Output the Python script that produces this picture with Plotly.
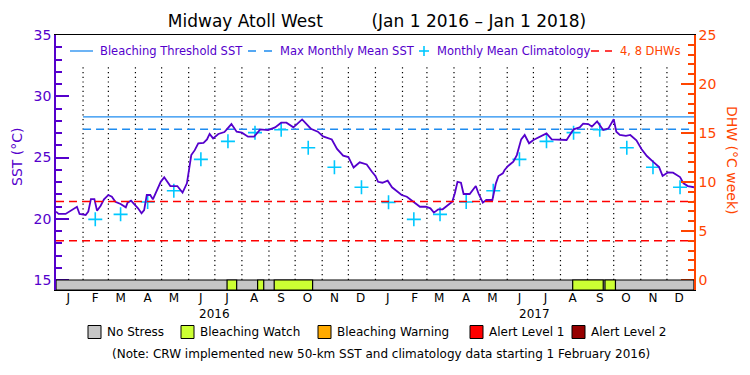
import plotly.graph_objects as go
import pandas as pd

# ---------------- data ----------------
sst_dates = [
    "2016-01-01", "2016-01-04", "2016-01-12", "2016-01-18", "2016-01-23", "2016-01-25",
    "2016-01-28", "2016-02-04", "2016-02-07", "2016-02-10", "2016-02-14", "2016-02-17",
    "2016-02-21", "2016-02-25", "2016-03-01", "2016-03-05", "2016-03-09", "2016-03-15",
    "2016-03-21", "2016-03-23", "2016-03-27", "2016-03-31", "2016-04-04", "2016-04-08",
    "2016-04-11", "2016-04-14", "2016-04-18", "2016-04-21", "2016-04-26", "2016-04-30",
    "2016-05-04", "2016-05-08", "2016-05-11", "2016-05-19", "2016-05-25", "2016-05-30",
    "2016-06-01", "2016-06-04", "2016-06-08", "2016-06-12", "2016-06-18", "2016-06-22",
    "2016-06-25", "2016-06-29", "2016-07-05", "2016-07-12", "2016-07-20", "2016-07-26",
    "2016-08-01", "2016-08-08", "2016-08-15", "2016-08-22", "2016-08-31", "2016-09-08",
    "2016-09-15", "2016-09-21", "2016-09-29", "2016-10-09", "2016-10-19", "2016-10-27",
    "2016-11-02", "2016-11-12", "2016-11-18", "2016-11-25", "2016-12-01", "2016-12-07",
    "2016-12-14", "2016-12-22", "2016-12-28", "2017-01-01", "2017-01-04", "2017-01-09",
    "2017-01-15", "2017-01-20", "2017-01-25", "2017-01-31", "2017-02-06", "2017-02-12",
    "2017-02-17", "2017-02-21", "2017-02-28", "2017-03-05", "2017-03-09", "2017-03-14",
    "2017-03-19", "2017-03-24", "2017-03-30", "2017-04-02", "2017-04-05", "2017-04-09",
    "2017-04-12", "2017-04-19", "2017-04-26", "2017-04-29", "2017-05-04", "2017-05-08",
    "2017-05-15", "2017-05-19", "2017-05-22", "2017-05-27", "2017-05-29", "2017-06-02",
    "2017-06-08", "2017-06-12", "2017-06-17", "2017-06-21", "2017-06-26", "2017-07-01",
    "2017-07-08", "2017-07-16", "2017-07-22", "2017-07-31", "2017-08-08", "2017-08-16",
    "2017-08-23", "2017-08-27", "2017-09-02", "2017-09-06", "2017-09-12", "2017-09-19",
    "2017-09-25", "2017-10-01", "2017-10-04", "2017-10-08", "2017-10-15", "2017-10-20",
    "2017-10-27", "2017-11-02", "2017-11-08", "2017-11-15", "2017-11-22", "2017-11-26",
    "2017-12-02", "2017-12-08", "2017-12-16", "2017-12-20", "2017-12-25", "2018-01-01",
]
sst_values = [
    20.58, 20.39, 20.39, 20.66, 20.93, 20.98,
    20.39, 20.31, 20.58, 21.61, 21.61, 20.66,
    21.04, 21.58, 21.94, 21.80, 21.39, 21.20,
    20.93, 21.31, 21.47, 21.20, 20.85, 20.44,
    20.71, 21.94, 21.94, 21.58, 22.35, 23.02,
    23.38, 23.02, 22.67, 22.67, 22.13, 22.89,
    23.98, 25.20, 25.60, 26.16, 26.20, 26.48,
    26.92, 26.56, 26.92, 27.08, 27.73, 27.11,
    27.03, 26.70, 26.70, 27.30, 27.24, 27.46,
    27.84, 27.84, 27.46, 28.11, 27.35, 27.11,
    26.72, 26.47, 25.70, 25.15, 25.03, 24.18,
    24.61, 24.43, 23.84, 23.50, 23.02, 22.94,
    23.11, 22.57, 22.29, 21.94, 21.80, 21.47,
    21.26, 20.98, 20.98, 20.85, 20.50, 20.77,
    20.77, 21.07, 21.39, 22.08, 23.02, 22.94,
    22.02, 22.02, 22.67, 22.08, 21.31, 21.53,
    21.53, 22.89, 23.49, 23.71, 23.98, 24.31,
    24.66, 25.20, 26.48, 26.84, 26.16, 26.43,
    26.70, 26.97, 26.48, 26.43, 26.43, 27.30,
    27.46, 27.76, 27.73, 27.52, 27.95, 27.24,
    27.38, 28.12, 27.10, 26.84, 26.76, 26.84,
    26.40, 25.67, 25.12, 24.66, 24.22, 23.50,
    23.78, 23.76, 23.40, 22.89, 22.67, 22.57,
]

clim_dates = [
    "2016-02-15", "2016-03-15", "2016-04-15", "2016-05-15", "2016-06-15", "2016-07-16",
    "2016-08-16", "2016-09-15", "2016-10-16", "2016-11-15", "2016-12-16", "2017-01-16",
    "2017-02-14", "2017-03-16", "2017-04-15", "2017-05-16", "2017-06-15", "2017-07-16",
    "2017-08-16", "2017-09-15", "2017-10-16", "2017-11-15", "2017-12-16",
]
clim_values = [
    19.95, 20.36, 21.37, 22.29, 24.85, 26.32,
    27.03, 27.27, 25.80, 24.20, 22.57, 21.34,
    19.95, 20.36, 21.37, 22.29, 24.85, 26.32,
    27.03, 27.27, 25.80, 24.20, 22.57,
]

threshold_sst = 28.31
mmm_sst = 27.31
new_data_start = "2016-02-01"
dhw_levels = [4, 8]

watch_starts = ["2016-07-15", "2016-08-19", "2016-09-07", "2017-08-15", "2017-09-21"]
watch_ends = ["2016-07-26", "2016-08-26", "2016-10-21", "2017-09-19", "2017-10-03"]

month_letters = ["J", "F", "M", "A", "M", "J", "J", "A", "S", "O", "N", "D"]
year_labels = ["2016", "2017"]
year_centers = ["2016-07-01", "2017-07-02"]

stress_names = ["No Stress", "Bleaching Watch", "Bleaching Warning", "Alert Level 1", "Alert Level 2"]
stress_colors = ["#c6c6c6", "#ccff33", "#ffaa00", "#ff0000", "#960000"]

# ---------------- style ----------------
PURPLE = "#5500cc"
ORANGE = "#ff4500"
BLUE = "#1e8cf0"
CYAN = "#00c8ff"
FONT = "DejaVu Sans"
START, END = "2016-01-01", "2018-01-01"
YMIN, YMAX = 14.1837, 35
Y2MIN, Y2MAX = -1.0204, 25

L, R, T, B = 56, 694, 35, 290


def px(xp):
    return (xp - L) / (R - L)


def py(yp):
    return (B - yp) / (B - T)


fig = go.Figure()

# thresholds
fig.add_trace(go.Scatter(x=[new_data_start, END], y=[threshold_sst] * 2, mode="lines",
                         line=dict(color=BLUE, width=1.3), yaxis="y", showlegend=False,
                         name="Bleaching Threshold SST"))
fig.add_trace(go.Scatter(x=[new_data_start, END], y=[mmm_sst] * 2, mode="lines",
                         line=dict(color=BLUE, width=1.5, dash="8px,5px"), yaxis="y",
                         showlegend=False, name="Max Monthly Mean SST"))
for lv in dhw_levels:
    fig.add_trace(go.Scatter(x=[START, END], y=[lv, lv], mode="lines",
                             line=dict(color="#ff0000", width=1.5, dash="8px,5px"),
                             yaxis="y2", showlegend=False, name=f"{lv} DHW"))

# climatology
fig.add_trace(go.Scatter(x=clim_dates, y=clim_values, mode="markers",
                         marker=dict(symbol="cross-thin", size=10,
                                     line=dict(color=CYAN, width=1.6)),
                         yaxis="y", showlegend=False, name="Monthly Mean Climatology"))
# SST
fig.add_trace(go.Scatter(x=sst_dates, y=sst_values, mode="lines",
                         line=dict(color=PURPLE, width=1.8), yaxis="y",
                         showlegend=False, name="SST"))

shapes = []
# dotted month boundaries
for d in pd.date_range("2016-02-01", "2017-12-01", freq="MS"):
    shapes.append(dict(type="line", xref="x", yref="y", x0=d, x1=d, y0=15, y1=32.55,
                       line=dict(color="black", width=1.2, dash="1.2px,3.5px"), layer="below"))
# stress band
shapes.append(dict(type="rect", xref="x", yref="y", x0=START, x1=END, y0=YMIN, y1=15,
                   fillcolor=stress_colors[0], line=dict(color="black", width=1.2)))
for s, e in zip(watch_starts, watch_ends):
    shapes.append(dict(type="rect", xref="x", yref="y", x0=s, x1=e, y0=YMIN, y1=15,
                       fillcolor=stress_colors[1], line=dict(color="black", width=1.2)))

annotations = []
# top legend
ly = 51
shapes.append(dict(type="line", xref="paper", yref="paper", x0=px(70), x1=px(93),
                   y0=py(ly), y1=py(ly), line=dict(color=BLUE, width=1.3)))
shapes.append(dict(type="line", xref="paper", yref="paper", x0=px(248), x1=px(272),
                   y0=py(ly), y1=py(ly), line=dict(color=BLUE, width=1.5, dash="8px,8px")))
shapes.append(dict(type="line", xref="paper", yref="paper", x0=px(419), x1=px(429),
                   y0=py(ly), y1=py(ly), line=dict(color=CYAN, width=1.6)))
shapes.append(dict(type="line", xref="paper", yref="paper", x0=px(424), x1=px(424),
                   y0=py(ly - 5), y1=py(ly + 5), line=dict(color=CYAN, width=1.6)))
shapes.append(dict(type="line", xref="paper", yref="paper", x0=px(591), x1=px(612),
                   y0=py(ly), y1=py(ly), line=dict(color="#ff0000", width=1.5, dash="8px,6px")))
for txt, xx, col in [("Bleaching Threshold SST", 98, PURPLE),
                     ("Max Monthly Mean SST", 278, PURPLE),
                     ("Monthly Mean Climatology", 435, PURPLE),
                     ("4, 8 DHWs", 618, ORANGE)]:
    annotations.append(dict(text=txt, x=px(xx), y=py(ly), xref="paper", yref="paper",
                            xanchor="left", yanchor="middle", showarrow=False,
                            font=dict(family=FONT, size=11.5, color=col)))

# bottom stress legend
box_x = [88, 181, 318, 470, 572]
by = 332
for name, col, bx in zip(stress_names, stress_colors, box_x):
    shapes.append(dict(type="rect", xref="paper", yref="paper", x0=px(bx), x1=px(bx + 13),
                       y0=py(by + 6.5), y1=py(by - 6.5), fillcolor=col,
                       line=dict(color="black", width=1)))
    annotations.append(dict(text=name, x=px(bx + 17), y=py(by), xref="paper", yref="paper",
                            xanchor="left", yanchor="middle", showarrow=False,
                            font=dict(family=FONT, size=12, color="black")))
annotations.append(dict(text="(Note: CRW implemented new 50-km SST and climatology data starting 1 February 2016)",
                        x=px(380.5), y=py(354), xref="paper", yref="paper", xanchor="center",
                        yanchor="middle", showarrow=False,
                        font=dict(family=FONT, size=12, color="black")))
# year labels
for lab, c in zip(year_labels, year_centers):
    annotations.append(dict(text=lab, x=c, y=py(314), xref="x", yref="paper",
                            xanchor="center", yanchor="middle", showarrow=False,
                            font=dict(family=FONT, size=12, color="black")))
# axis titles
annotations.append(dict(text="SST (°C)", x=px(17), y=py(157), xref="paper", yref="paper",
                        textangle=-90, showarrow=False, xanchor="center", yanchor="middle",
                        font=dict(family=FONT, size=14, color=PURPLE)))
annotations.append(dict(text="DHW (°C week)", x=px(732), y=py(160), xref="paper", yref="paper",
                        textangle=90, showarrow=False, xanchor="center", yanchor="middle",
                        font=dict(family=FONT, size=14, color=ORANGE)))

month_ticks = pd.date_range("2016-01-01", "2017-12-01", freq="MS") + pd.Timedelta(days=14)
month_text = month_letters * 2

NB = "\u00a0"
fig.update_layout(
    width=750, height=375,
    margin=dict(l=L, r=750 - R, t=T, b=375 - B, pad=0, autoexpand=False),
    paper_bgcolor="white", plot_bgcolor="white",
    showlegend=False,
    title=dict(text="Midway Atoll West" + NB * 9 + "(Jan 1 2016 \u2013 Jan 1 2018)",
               x=377 / 750, xanchor="center", y=1 - 21 / 375, yanchor="middle",
               font=dict(family=FONT, size=17, color="black")),
    xaxis=dict(type="date", range=[START, END], tickvals=list(month_ticks), ticktext=month_text,
               ticks="", showgrid=False, zeroline=False, showline=True, linecolor="black",
               linewidth=1.3, mirror=True, automargin=False, ticklabelstandoff=-4,
               tickfont=dict(family=FONT, size=12, color="black")),
    yaxis=dict(range=[YMIN, YMAX], tickvals=[15, 20, 25, 30, 35], ticks="inside", ticklen=13,
               tickwidth=1.5, tickcolor=PURPLE, showgrid=False, zeroline=False, showline=True,
               linecolor=PURPLE, linewidth=1.5, automargin=False,
               tickfont=dict(family=FONT, size=14, color=PURPLE),
               minor=dict(tickvals=list(range(15, 36)), ticks="inside", ticklen=6.5,
                          tickcolor=PURPLE, tickwidth=1.5)),
    yaxis2=dict(range=[Y2MIN, Y2MAX], overlaying="y", side="right",
                tickvals=[0, 5, 10, 15, 20, 25], ticks="inside", ticklen=13, tickwidth=1.5,
                tickcolor=ORANGE, showgrid=False, zeroline=False, showline=True,
                linecolor=ORANGE, linewidth=1.5, automargin=False,
                tickfont=dict(family=FONT, size=14, color=ORANGE),
                minor=dict(tickvals=list(range(0, 26)), ticks="inside", ticklen=6.5,
                           tickcolor=ORANGE, tickwidth=1.5)),
    shapes=shapes,
    annotations=annotations,
)

fig.write_html("out.html", config={"displayModeBar": False},
               post_script="document.body.style.margin='0px';")
